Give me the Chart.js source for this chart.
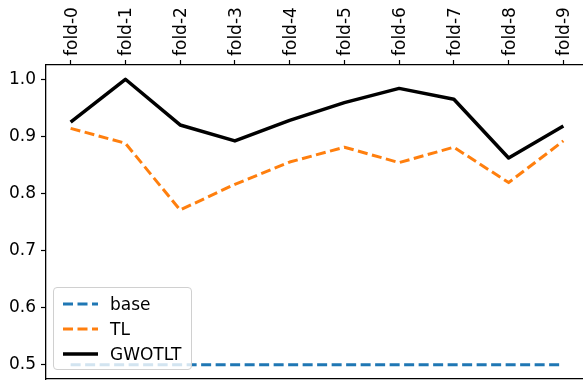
<!DOCTYPE html>
<html>
<head>
    <title>Fold scores</title>
    <script src="https://cdn.jsdelivr.net/npm/chart.js@4"></script>
    <style>
        html, body { margin: 0; overflow: hidden; background: #fff; width: 583px; height: 381px; }
        #wrap { position: relative; width: 583px; height: 381px; overflow: hidden; }
        #chart { position: absolute; left: 0; top: 0; }
        #legend {
            position: absolute; left: 53px; top: 287px; width: 137px; height: 81px;
            background: rgba(255, 255, 255, 0.8); border: 1px solid #d0d0d0; border-radius: 4px;
            font-family: "DejaVu Sans", sans-serif; font-size: 17px; color: #000;
        }
        .item { position: absolute; left: 9px; height: 20px; line-height: 20px; }
        .item svg { position: absolute; left: 0; top: 6px; }
        .item span { position: absolute; left: 47px; top: 0; white-space: nowrap; }
    </style>
</head>
<body>
    <div id="wrap">
        <canvas id="chart" width="590" height="381"></canvas>
        <div id="legend"></div>
    </div>

    <script>
        // values
        const folds = ['fold-0', 'fold-1', 'fold-2', 'fold-3', 'fold-4', 'fold-5', 'fold-6', 'fold-7', 'fold-8', 'fold-9'];
        const base = [0.5, 0.5, 0.5, 0.5, 0.5, 0.5, 0.5, 0.5, 0.5, 0.5];
        const tl = [0.914, 0.888, 0.771, 0.816, 0.855, 0.881, 0.854, 0.881, 0.819, 0.892];
        const gwotlt = [0.925, 1.0, 0.92, 0.892, 0.928, 0.959, 0.984, 0.965, 0.862, 0.918];
        const yTicks = [0.5, 0.6, 0.7, 0.8, 0.9, 1.0];

        const font = { family: 'DejaVu Sans', size: 17 };
        const pts = arr => arr.map((v, i) => ({ x: i, y: v }));

        const series = [
            { label: 'base', data: base, color: '#1f77b4', width: 3, dash: [10, 4.5], order: 3 },
            { label: 'TL', data: tl, color: '#ff7f0e', width: 3, dash: [10, 4.5], order: 2 },
            { label: 'GWOTLT', data: gwotlt, color: '#000000', width: 3.5, dash: [], order: 1 }
        ];

        // fixed box sizes, no extra room for overhanging labels
        const fixSize = (w, h) => axis => {
            if (w !== null) axis.width = w;
            if (h !== null) axis.height = h;
            axis.paddingLeft = axis.paddingRight = axis.paddingTop = axis.paddingBottom = 0;
        };

        const ctx = document.getElementById('chart').getContext('2d');
        new Chart(ctx, {
            type: 'line',
            data: {
                datasets: series.map(s => ({
                    label: s.label,
                    data: pts(s.data),
                    borderColor: s.color,
                    borderWidth: s.width,
                    borderDash: s.dash,
                    borderJoinStyle: 'round',
                    pointRadius: 0,
                    tension: 0,
                    fill: false,
                    order: s.order
                }))
            },
            options: {
                responsive: false,
                animation: false,
                devicePixelRatio: 1,
                layout: { padding: { left: 0, right: 2, top: 0, bottom: 2 } },
                plugins: { legend: { display: false }, tooltip: { enabled: false } },
                scales: {
                    x: {
                        type: 'linear',
                        position: 'top',
                        min: -0.45,
                        max: 9.45,
                        afterBuildTicks: axis => { axis.ticks = folds.map((f, i) => ({ value: i })); },
                        afterFit: fixSize(null, 65),
                        ticks: {
                            callback: v => folds[v],
                            minRotation: 90,
                            maxRotation: 90,
                            autoSkip: false,
                            padding: 4,
                            labelOffset: 22,
                            color: '#000',
                            font: font
                        },
                        grid: { drawOnChartArea: false, tickLength: 5, color: '#000', tickWidth: 1.2 },
                        border: { display: true, color: '#000', width: 1.3 }
                    },
                    x2: {
                        type: 'linear',
                        position: 'bottom',
                        min: -0.45,
                        max: 9.45,
                        afterFit: fixSize(null, 0),
                        ticks: { display: false },
                        grid: { display: false },
                        border: { display: true, color: '#000', width: 1.3 }
                    },
                    y: {
                        min: 0.475,
                        max: 1.025,
                        afterBuildTicks: axis => { axis.ticks = yTicks.map(v => ({ value: v })); },
                        afterFit: fixSize(46, null),
                        ticks: {
                            callback: v => v.toFixed(1),
                            padding: 5,
                            color: '#000',
                            font: font
                        },
                        grid: { drawOnChartArea: false, tickLength: 5, color: '#000', tickWidth: 1.2 },
                        border: { display: true, color: '#000', width: 1.3 }
                    }
                }
            }
        });

        // legend in the lower left, like matplotlib's
        const legend = document.getElementById('legend');
        series.forEach((s, i) => {
            const item = document.createElement('div');
            item.className = 'item';
            item.style.top = (6 + i * 25) + 'px';
            const dash = s.dash.length ? s.dash.join(' ') : 'none';
            item.innerHTML = '<svg width="36" height="8"><line x1="0" y1="4" x2="35" y2="4" stroke="' + s.color +
                '" stroke-width="' + s.width + '" stroke-dasharray="' + dash + '"/></svg><span>' + s.label + '</span>';
            legend.appendChild(item);
        });
    </script>
</body>
</html>
